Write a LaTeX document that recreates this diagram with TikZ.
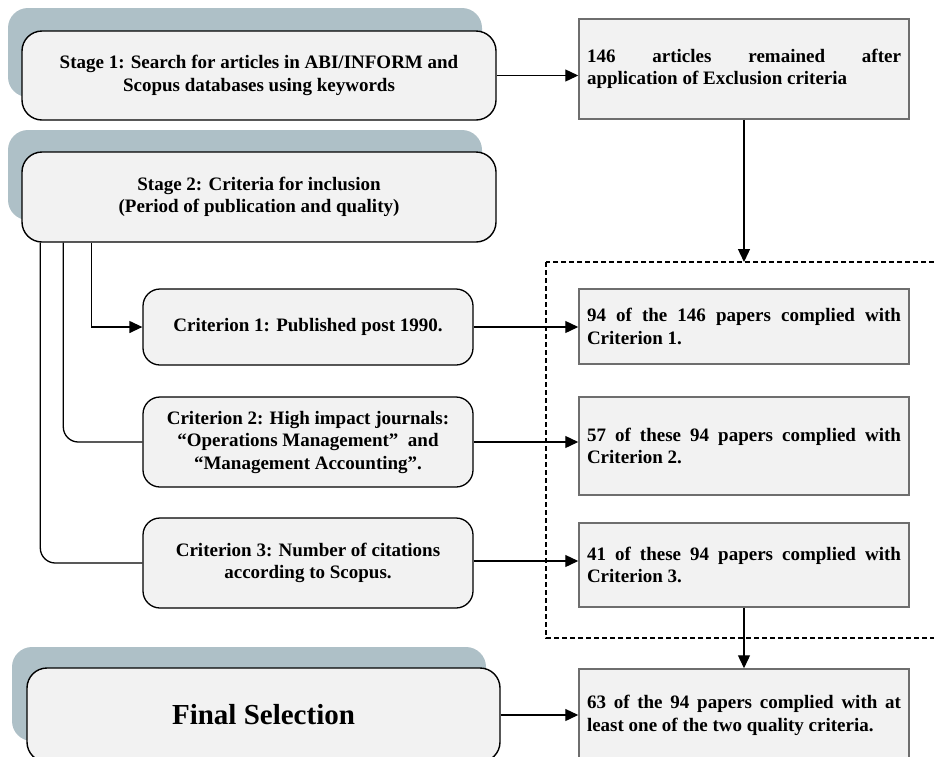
\documentclass[tikz,border=0pt]{standalone}
\usepackage{fontspec}
\setmainfont{Liberation Serif}
\usetikzlibrary{arrows.meta}
\definecolor{tabblue}{RGB}{174,192,199}
\definecolor{boxfill}{RGB}{242,242,242}
\definecolor{boxline}{RGB}{110,110,110}
\begin{document}
\begin{tikzpicture}[x=1pt,y=-1pt,
  txt/.style={font=\bfseries\fontsize{19}{22.5}\selectfont},
  stagebox/.style={txt, draw=black, line width=1.4pt, fill=boxfill,
    rounded corners=20pt, inner sep=0pt, align=center, minimum width=474pt},
  tab/.style={fill=tabblue, rounded corners=20pt},
  critbox/.style={txt, draw=black, line width=1.3pt, fill=boxfill,
    rounded corners=17pt, inner sep=0pt, align=center, minimum width=330pt},
  resbox/.style={txt, draw=boxline, line width=1.5pt, fill=boxfill,
    inner xsep=8pt, inner ysep=0pt, text width=314pt, align=justify},
  arr/.style={line width=1.3pt, -{Triangle[length=13pt,width=12pt]}},
  link/.style={line width=1.3pt}]
\useasboundingbox (0,0) rectangle (934,756);
\clip (0,0) rectangle (934,756);

% stage boxes with their tabs behind
\path[tab] (8,8) rectangle (482,97);
\node[stagebox, minimum height=89pt] (s1) at (259,75.5)
  {Stage 1: Search for articles in ABI/INFORM and\\Scopus databases using keywords};
\path[tab] (8,130) rectangle (482,220);
\node[stagebox, minimum height=90pt] (s2) at (259,197)
  {Stage 2: Criteria for inclusion\\(Period of publication and quality)};
\path[tab] (12,647) rectangle (486,741);
\node[stagebox, minimum width=473pt, minimum height=94pt,
  font=\bfseries\fontsize{29}{34}\selectfont] (fin) at (263.5,715) {Final Selection};

% criterion boxes
\node[critbox, minimum height=76pt] (c1) at (308,327) {Criterion 1: Published post 1990.};
\node[critbox, minimum height=90pt] (c2) at (308,442)
  {Criterion 2: High impact journals:\\“Operations Management”\ \ and\\“Management Accounting”.};
\node[critbox, minimum height=90pt] (c3) at (308,563)
  {Criterion 3: Number of citations\\according to Scopus.};

% result boxes
\node[resbox, minimum height=100pt] (r146) at (744,69)
  {146 articles remained after\linebreak application of Exclusion criteria};
\node[resbox, minimum height=75pt] (r94) at (744,326.5)
  {94 of the 146 papers complied with\linebreak Criterion 1.};
\node[resbox, minimum height=98pt] (r57) at (744,446)
  {57 of these 94 papers complied with\linebreak Criterion 2.};
\node[resbox, minimum height=84pt] (r41) at (744,565)
  {41 of these 94 papers complied with\linebreak Criterion 3.};
\node[resbox, minimum height=93pt] (r63) at (744,715.5)
  {63 of the 94 papers complied with at\linebreak least one of the two quality criteria.};

% dashed frame round the quality criteria results
\coordinate (dtop) at (744,262);
\draw[line width=1.2pt, dash pattern=on 5pt off 3pt] (546,262) rectangle (960,638);

% connectors
\draw[arr] (s1.east) -- (s1.east -| r146.west);
\draw[arr] (r146.south) -- (dtop);
\draw[arr] ([xshift=70pt]s2.south west) |- (c1.west);
\draw[link, rounded corners=15pt] ([xshift=42pt]s2.south west) |- (c2.west);
\draw[link, rounded corners=15pt] ([xshift=19pt]s2.south west) |- (c3.west);
\draw[arr] (c1.east) -- (c1.east -| r94.west);
\draw[arr] (c2.east) -- (c2.east -| r57.west);
\draw[arr] ([yshift=2pt]c3.east) -- ([yshift=2pt]c3.east -| r41.west);
\draw[arr] (r41.south) -- (r63.north);
\draw[arr] (fin.east) -- (fin.east -| r63.west);
\end{tikzpicture}
\end{document}
